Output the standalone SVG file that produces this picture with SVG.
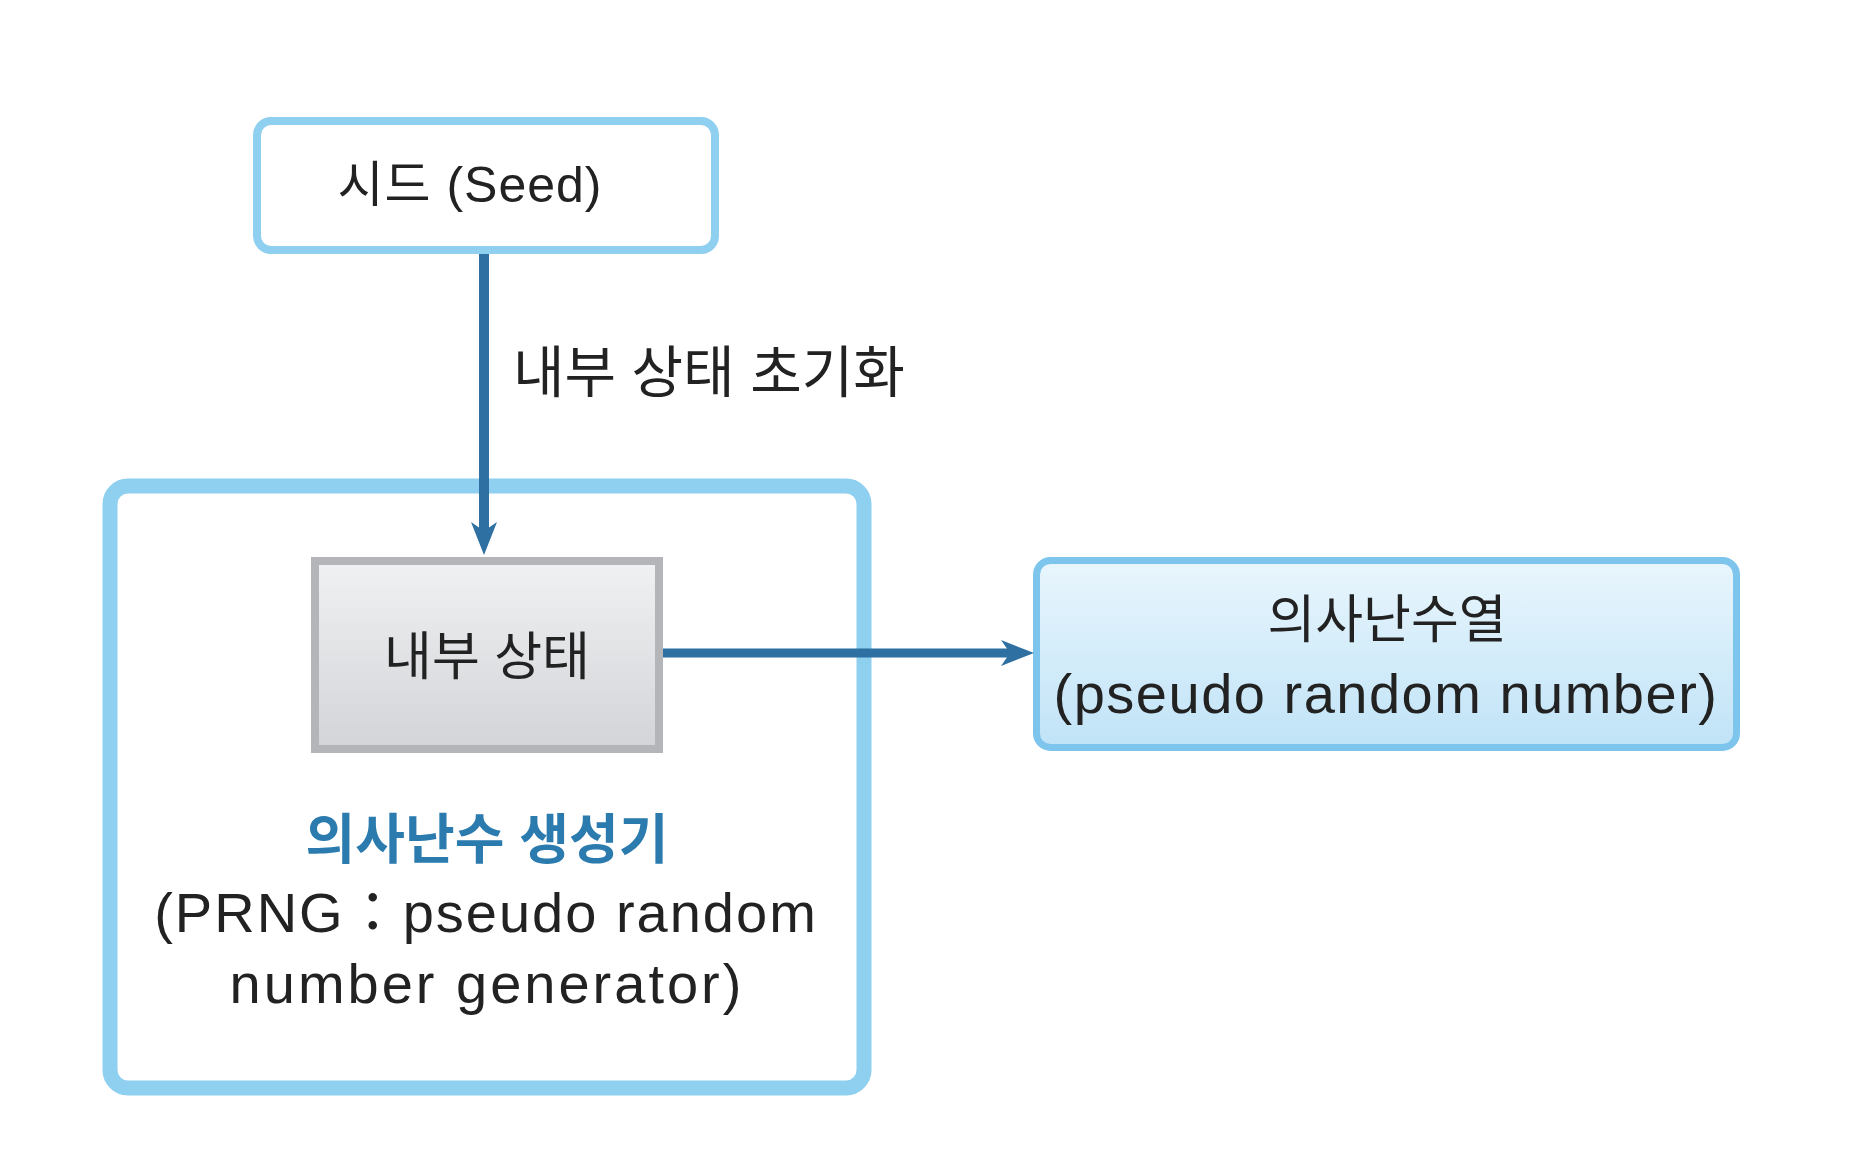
<svg xmlns="http://www.w3.org/2000/svg" width="1850" height="1161" viewBox="0 0 1850 1161">
<style>
.t{font-family:"Liberation Sans","Noto Sans CJK KR",sans-serif;fill:#222222;}
.c{text-anchor:middle;}
.lb{fill:none;stroke:#8fcff0;}
.conn{stroke:#2e70a2;fill:none;}
</style>
<defs>
<linearGradient id="gGray" x1="0" y1="0" x2="0" y2="1">
<stop offset="0" stop-color="#f0f1f3"/>
<stop offset="1" stop-color="#d3d4d7"/>
</linearGradient>
<linearGradient id="gBlue" x1="0" y1="0" x2="0" y2="1">
<stop offset="0" stop-color="#e9f6fd"/>
<stop offset="1" stop-color="#c0e3f7"/>
</linearGradient>
<marker id="arr" markerUnits="userSpaceOnUse" markerWidth="34" markerHeight="26" viewBox="0 0 34 26" refX="9" refY="13" orient="auto">
<path d="M0,0 L33,13 L0,26 L9,13 Z" fill="#2e70a2"/>
</marker>
</defs>
<rect width="1850" height="1161" fill="#ffffff"/>
<g id="prng">
<rect class="lb" x="110" y="486" width="754" height="602" rx="18" stroke-width="15"/>
<text class="t c" x="487" y="859" font-size="54" font-weight="bold" style="fill:#2c7bae">의사난수 생성기</text>
<text class="t c" x="486" y="932" font-size="56" letter-spacing="2">(PRNG：pseudo random</text>
<text class="t c" x="487" y="1003" font-size="56" letter-spacing="3">number generator)</text>
</g>
<g id="seed">
<rect class="lb" x="257" y="121" width="458" height="129" rx="14" stroke-width="8"/>
<text class="t c" x="470" y="202" font-size="50" letter-spacing="1">시드 (Seed)</text>
</g>
<g id="state">
<rect x="315" y="561" width="344" height="188" fill="url(#gGray)" stroke="#b4b5b8" stroke-width="8"/>
<text class="t c" x="487" y="675" font-size="52">내부 상태</text>
</g>
<g id="output">
<rect x="1036.5" y="560.5" width="700" height="187" rx="14" fill="url(#gBlue)" stroke="#7dc5ec" stroke-width="7"/>
<text class="t c" x="1387" y="638" font-size="52">의사난수열</text>
<text class="t c" x="1386" y="713" font-size="56" letter-spacing="1.5">(pseudo random number)</text>
</g>
<g id="connectors">
<line class="conn" x1="484" y1="254" x2="484" y2="531" stroke-width="10" marker-end="url(#arr)"/>
<text class="t" x="513" y="392" font-size="56">내부 상태 초기화</text>
<line class="conn" x1="663" y1="653" x2="1010" y2="653" stroke-width="9" marker-end="url(#arr)"/>
</g>
</svg>
